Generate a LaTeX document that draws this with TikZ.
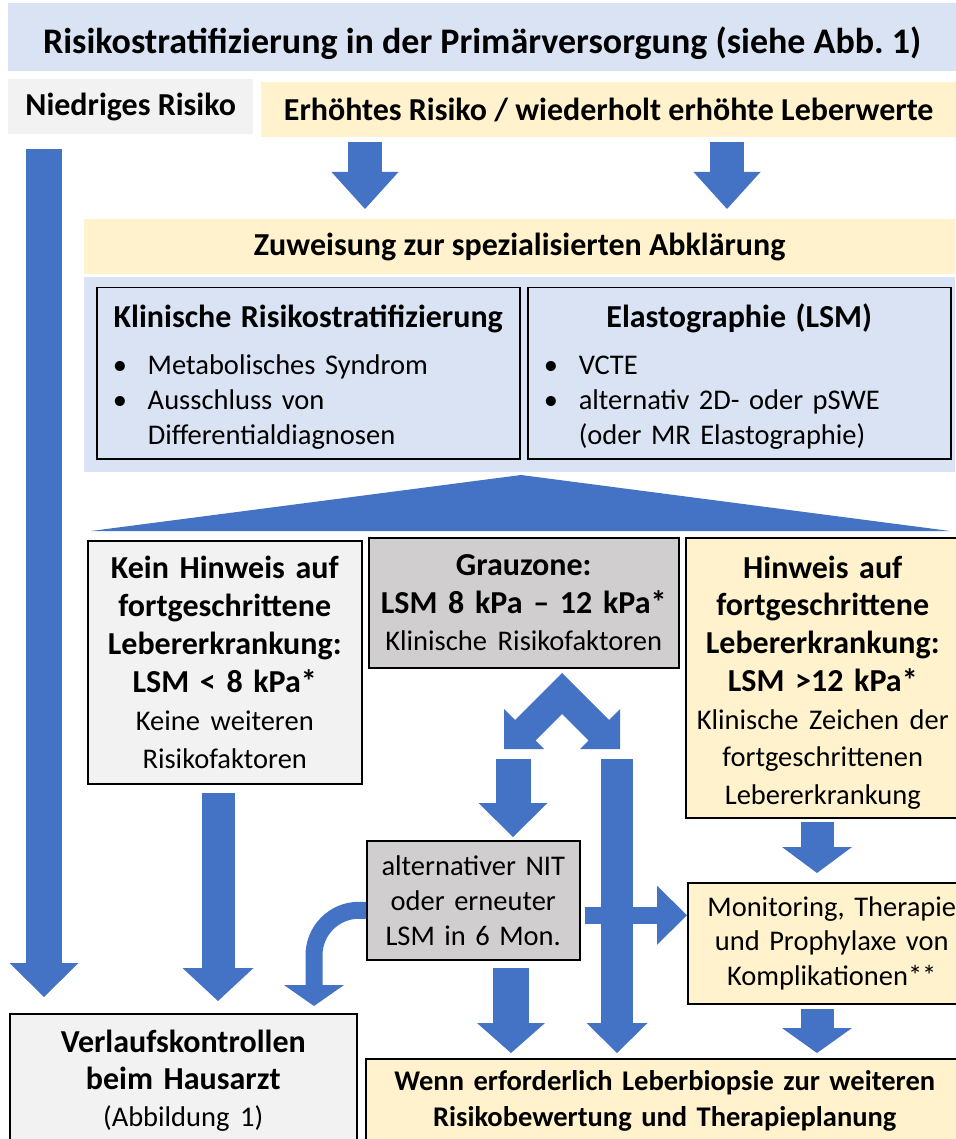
\documentclass[tikz,border=0pt]{standalone}
\usepackage{fontspec}
\setmainfont{Carlito}
\usetikzlibrary{arrows.meta}

\definecolor{arrowblue}{HTML}{4472C4}
\definecolor{bandblue}{HTML}{DAE3F3}
\definecolor{bandyellow}{HTML}{FFF2CC}
\definecolor{lightgrey}{HTML}{F2F2F2}
\definecolor{midgrey}{HTML}{D0CECE}

\begin{document}
\begin{tikzpicture}[x=1pt, y=-1pt]
    \tikzset{
        band/.style={inner sep=0pt, anchor=north west, align=center},
        box/.style={draw=black, line width=1.5pt, inner sep=0pt, anchor=north west, align=center},
        titlefont/.style={font=\fontsize{36}{40}\selectfont\bfseries},
        headfont/.style={font=\fontsize{32}{38}\selectfont\bfseries},
        bodyfont/.style={font=\fontsize{28.5}{35}\selectfont},
        blk/.style n args={3}{draw=arrowblue, line width=#1, -{Triangle[width=#2, length=#3, line width=0pt]}}
    }
    \useasboundingbox (0,0) rectangle (955,1139);

    % columns for the block arrows
    \coordinate (cl) at (44,0);
    \coordinate (ca) at (365,0);
    \coordinate (cb) at (727,0);
    \coordinate (ck) at (218,0);
    \coordinate (cc) at (314,0);
    \coordinate (cn) at (511,0);
    \coordinate (cm) at (817,0);
    \coordinate (l0) at (513,759);
    \coordinate (r0) at (617,759);

    % bands
    \node[band, fill=bandblue, minimum width=948, minimum height=68, text height=40pt, text depth=7pt, titlefont] (title) at (8,3)
        {Risikostratifizierung in der Primärversorgung (siehe Abb.~1)};
    \node[band, fill=lightgrey, minimum width=245, minimum height=55, headfont] (nied) at (8,79) {Niedriges Risiko};
    \node[band, fill=bandyellow, minimum width=695, minimum height=55, headfont] (erh) at (261,82)
        {Erhöhtes Risiko / wiederholt erhöhte Leberwerte};
    \node[band, fill=bandyellow, minimum width=871, minimum height=55, headfont] (zuw) at (84,219)
        {Zuweisung zur spezialisierten Abklärung};
    \node[band, fill=bandblue, minimum width=871, minimum height=195] (abkl) at (84,277) {};

    % specialised work-up
    \node[box, fill=bandblue, minimum width=423, minimum height=171, text width=391, align=left, bodyfont] (klin) at (96,287)
        {{\centering\fontsize{32}{35}\selectfont\bfseries\rule{0pt}{36pt}Klinische Risikostratifizierung\par}\vspace{17pt}
         \begin{tabular}{@{}p{35pt}@{}l@{}}
         \textbullet & Metabolisches Syndrom\\
         \textbullet & Ausschluss von\\
                     & Differentialdiagnosen
         \end{tabular}};
    \node[box, fill=bandblue, minimum width=423, minimum height=171, text width=391, align=left, bodyfont] (elast) at (527,287)
        {{\centering\fontsize{32}{35}\selectfont\bfseries\rule{0pt}{36pt}Elastographie (LSM)\par}\vspace{17pt}
         \begin{tabular}{@{}p{35pt}@{}l@{}}
         \textbullet & VCTE\\
         \textbullet & alternativ 2D- oder pSWE\\
                     & (oder MR Elastographie)
         \end{tabular}};

    \fill[arrowblue] (521,475) -- (950,531) -- (91,531) -- cycle;

    % result of the elastography
    \node[box, fill=lightgrey, minimum width=274, minimum height=243, text width=270, font=\fontsize{32}{38}\selectfont] (kein) at (87,540)
        {\bfseries Kein Hinweis auf\\fortgeschrittene\\Lebererkrankung:\\LSM < 8 kPa*\\
         {\mdseries\fontsize{28.5}{38}\selectfont Keine weiteren\\Risikofaktoren}};
    \node[box, fill=midgrey, minimum width=310, minimum height=130, text width=306, font=\fontsize{32}{37.5}\selectfont] (grau) at (368,537)
        {\bfseries Grauzone:\\LSM 8 kPa – 12 kPa*\\
         {\mdseries\fontsize{28.5}{37.5}\selectfont Klinische Risikofaktoren}};
    \node[box, fill=bandyellow, minimum width=274, minimum height=280, text width=270, font=\fontsize{32}{37.7}\selectfont] (hinw) at (685,537)
        {\bfseries\rule{0pt}{32pt}Hinweis auf\\fortgeschrittene\\Lebererkrankung:\\LSM >12 kPa*\\
         {\mdseries\fontsize{28.5}{37.7}\selectfont Klinische Zeichen der\\fortgeschrittenen\\Lebererkrankung}};

    \node[box, fill=midgrey, minimum width=213, minimum height=119, text width=209, font=\fontsize{28.5}{35}\selectfont] (nit) at (366,840)
        {alternativer NIT\\oder erneuter\\LSM in 6 Mon.};
    \node[box, fill=bandyellow, minimum width=288, minimum height=121, text width=284, font=\fontsize{28.5}{34.5}\selectfont] (mon) at (687,882)
        {Monitoring, Therapie\\und Prophylaxe von\\Komplikationen**};
    \node[box, fill=lightgrey, minimum width=347, minimum height=134, text width=343, font=\fontsize{32}{37}\selectfont] (verl) at (9,1013)
        {\bfseries Verlaufskontrollen\\beim Hausarzt\\{\mdseries\fontsize{28.5}{37}\selectfont (Abbildung 1)}};
    \node[box, fill=bandyellow, minimum width=598, minimum height=84, text width=594, font=\fontsize{28.5}{36}\selectfont\bfseries] (wenn) at (365,1058)
        {Wenn erforderlich Leberbiopsie zur weiteren\\Risikobewertung und Therapieplanung};

    % block arrows
    \draw[blk={36pt}{69pt}{34pt}] ([yshift=-15]nied.south -| cl) -- ([yshift=16]verl.north -| cl);
    \draw[blk={34pt}{67pt}{37pt}] ([yshift=-5]erh.south -| ca) -- ([yshift=10]zuw.north -| ca);
    \draw[blk={34pt}{67pt}{37pt}] ([yshift=-5]erh.south -| cb) -- ([yshift=10]zuw.north -| cb);
    \draw[blk={33pt}{71pt}{33pt}] ([yshift=-8]kein.south -| ck) -- ([yshift=12]verl.north -| ck);

    \fill[arrowblue] (562,673) -- (515,720) -- (504,709) -- (504,749) -- (544,749) -- (535.5,740.5) -- (562,714)
        -- (588.5,740.5) -- (580,749) -- (620,749) -- (620,709) -- (609,720) -- cycle;
    \draw[blk={35pt}{69pt}{34pt}] (l0) -- ([yshift=3]nit.north -| l0);
    \draw[blk={32pt}{61pt}{30pt}] (r0) -- ([yshift=5]wenn.north -| r0);

    \draw[blk={36pt}{68pt}{30pt}] ([yshift=-7]nit.south -| cn) -- ([yshift=5]wenn.north -| cn);
    \draw[blk={17pt}{59pt}{30pt}] ([xshift=4, yshift=-15]nit.east) -- ([yshift=-15]nit.east -| mon.west);
    \draw[blk={17pt}{60pt}{21pt}, rounded corners=45] ([yshift=-10]nit.west) -| ([yshift=7]verl.north -| cc);

    \draw[blk={33pt}{70pt}{26pt}] ([yshift=-3]hinw.south -| cm) -- ([yshift=9]mon.north -| cm);
    \draw[blk={33pt}{70pt}{25pt}] ([yshift=-4]mon.south -| cm) -- ([yshift=5]wenn.north -| cm);

\end{tikzpicture}
\end{document}
